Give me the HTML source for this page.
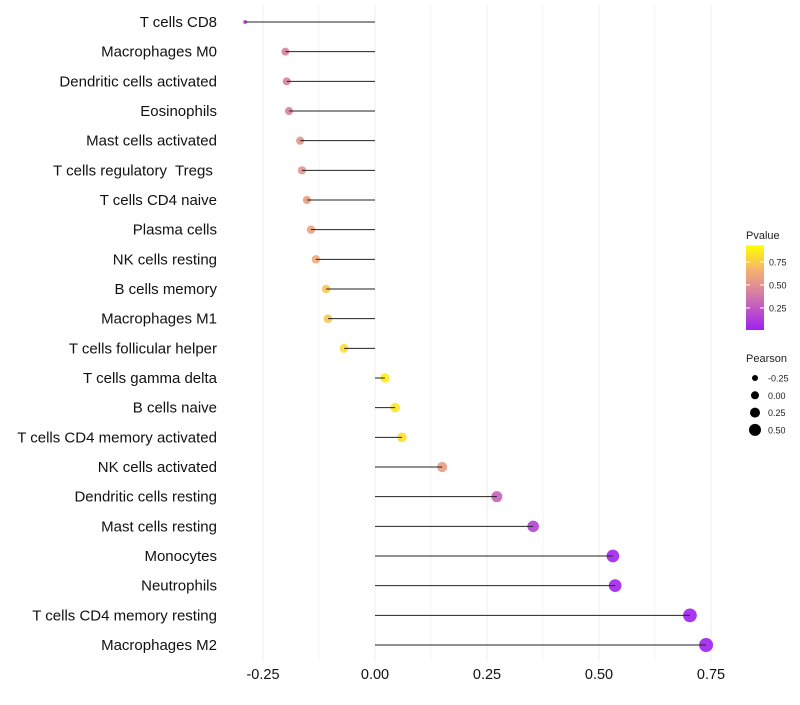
<!DOCTYPE html>
<html><head><meta charset="utf-8"><style>body{margin:0;background:#fff}svg{font-family:"Liberation Sans",sans-serif}text{white-space:pre}</style></head>
<body>
<svg id="c" width="800" height="700"></svg>
<script>
const categories=["T cells CD8","Macrophages M0","Dendritic cells activated","Eosinophils","Mast cells activated","T cells regulatory  Tregs ","T cells CD4 naive","Plasma cells","NK cells resting","B cells memory","Macrophages M1","T cells follicular helper","T cells gamma delta","B cells naive","T cells CD4 memory activated","NK cells activated","Dendritic cells resting","Mast cells resting","Monocytes","Neutrophils","T cells CD4 memory resting","Macrophages M2"];
const pearson=[-0.29,-0.20,-0.197,-0.192,-0.167,-0.163,-0.152,-0.143,-0.132,-0.109,-0.105,-0.069,0.022,0.045,0.06,0.15,0.272,0.353,0.531,0.536,0.703,0.739];
const pvalue=[0.2,0.45,0.45,0.45,0.55,0.55,0.6,0.62,0.65,0.78,0.78,0.88,0.93,0.9,0.88,0.6,0.3,0.15,0.02,0.02,0.0,0.0];
const xTicks=[-0.25,0,0.25,0.5,0.75];
const xTickLabels=["-0.25","0.00","0.25","0.50","0.75"];
const pTicks=[0.75,0.5,0.25];
const sizeTicks=[-0.25,0,0.25,0.5];
const NS="http://www.w3.org/2000/svg",svg=document.getElementById('c');
function mk(t,a,p){const e=document.createElementNS(NS,t);for(const k in a)e.setAttribute(k,a[k]);(p||svg).appendChild(e);return e;}
const x=v=>375+v*448;
const y=i=>22+i*(623/21);
const rad=v=>v<-0.2?2+(v+0.29)/0.09*2:4+(v+0.2)*3.2;
const stops=[[0,[160,32,240]],[0.45,[216,130,160]],[0.7,[245,176,112]],[1,[255,255,0]]];
function col(p){for(let i=1;i<stops.length;i++){if(p<=stops[i][0]){const a=stops[i-1],b=stops[i],t=(p-a[0])/(b[0]-a[0]);return 'rgb('+a[1].map((c,j)=>Math.round(c+(b[1][j]-c)*t)).join(',')+')';}}return 'rgb(255,255,0)';}
for(let k=-0.25;k<=0.751;k+=0.125){const g=mk('line',{x1:x(k),x2:x(k),y1:5,y2:662,stroke:Math.abs((k/0.25)-Math.round(k/0.25))<0.01?'#efefef':'#f6f6f6','stroke-width':1});

}
xTicks.forEach((t,i)=>{const e=mk('text',{x:x(t),y:679,'text-anchor':'middle','font-size':14.5,fill:'#111'});e.textContent=xTickLabels[i];

});
categories.forEach((c,i)=>{
const t=mk('text',{x:217,y:y(i)+5,'text-anchor':'end','font-size':15,fill:'#111'});t.textContent=c;


const d=mk('circle',{cx:x(pearson[i]),cy:y(i),r:rad(pearson[i]),fill:col(pvalue[i]),'fill-opacity':0.9});


const l=mk('line',{x1:x(0),x2:x(pearson[i]),y1:y(i),y2:y(i),stroke:'#222','stroke-width':1});


});
const lt=mk('text',{x:746,y:239,'font-size':11,fill:'#222'});lt.textContent='Pvalue';


const defs=mk('defs',{});const lg=mk('linearGradient',{id:'g',x1:0,y1:1,x2:0,y2:0},defs);
stops.forEach(s=>mk('stop',{offset:s[0],'stop-color':col(s[0])},lg));
const pv=p=>330-(p-0.01)*92;
const bar=mk('rect',{x:746,y:pv(0.93),width:18,height:pv(0.01)-pv(0.93),fill:'url(#g)'});


pTicks.forEach(p=>{mk('line',{x1:746,x2:750,y1:pv(p),y2:pv(p),stroke:'#fff'});mk('line',{x1:760,x2:764,y1:pv(p),y2:pv(p),stroke:'#fff'});
const e=mk('text',{x:769,y:pv(p)+3.5,'font-size':9,fill:'#222'});e.textContent=p.toFixed(2);

});
const st=mk('text',{x:746,y:362,'font-size':11,fill:'#222'});st.textContent='Pearson';


sizeTicks.forEach((s,i)=>{const cy=378+i*17.3;const c=mk('circle',{cx:755,cy:cy,r:3+(s+0.25)*4,fill:'#000'});


const e=mk('text',{x:768,y:cy+3.5,'font-size':9,fill:'#222'});e.textContent=s.toFixed(2);

});
</script>
</body></html>
